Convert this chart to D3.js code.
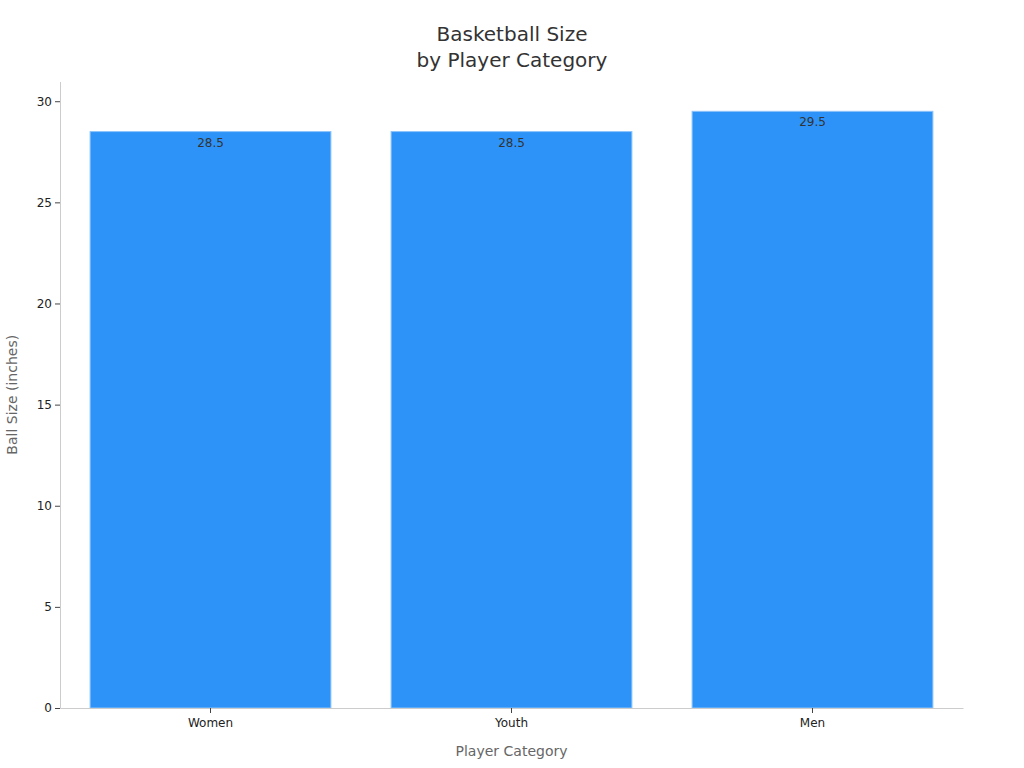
<!DOCTYPE html>
<html>
<head>
<meta charset="utf-8">
<script src="https://cdn.jsdelivr.net/npm/d3@7"></script>
<style>
  body { margin: 0; background: #fff; }
  svg { font-family: "DejaVu Sans", sans-serif; }
</style>
</head>
<body>
<div id="chart"></div>
<script>
'use strict';
const categories = ['Women', 'Youth', 'Men'];
const ballSizes = [28.5, 28.5, 29.5];
const yTicks = [0, 5, 10, 15, 20, 25, 30];

const width = 1024, height = 768;
const margin = {top: 81.5, right: 61, bottom: 60, left: 60};

const svg = d3.select('#chart').append('svg')
    .attr('width', width)
    .attr('height', height);

const data = categories.map((c, i) => ({name: c, value: ballSizes[i]}));

// scales
const x = d3.scaleBand()
    .domain(categories)
    .range([margin.left, width - margin.right])
    .paddingInner(0.2)
    .paddingOuter(0.1);
const y = d3.scaleLinear()
    .domain([0, d3.max(ballSizes) * 1.05])
    .range([height - margin.bottom, margin.top]);

// bars
svg.selectAll('.bar')
    .data(data)
    .enter().append('rect')
    .attr('class', 'bar')
    .attr('x', d => x(d.name))
    .attr('y', d => y(d.value))
    .attr('width', x.bandwidth())
    .attr('height', d => y(0) - y(d.value))
    .style('fill', '#2e93f8')
    .style('stroke', '#8cc4fb')
    .style('stroke-width', 1);

// value labels just inside the top of each bar
svg.selectAll('.label')
    .data(data)
    .enter().append('text')
    .attr('x', d => x(d.name) + x.bandwidth() / 2)
    .attr('y', d => y(d.value) + 15)
    .attr('text-anchor', 'middle')
    .style('font-size', '12px')
    .style('fill', '#333')
    .text(d => d.value);

// x axis
const xAxis = svg.append('g')
    .attr('transform', 'translate(0,' + (height - margin.bottom) + ')')
    .call(d3.axisBottom(x).tickSize(5).tickSizeOuter(0));
xAxis.select('.domain').attr('stroke', '#ccc');
xAxis.selectAll('.tick line').attr('stroke', '#444');
xAxis.selectAll('.tick text')
    .attr('dy', '0.9em')
    .style('font-size', '12px')
    .style('fill', '#222')
    .style('font-family', '"DejaVu Sans", sans-serif');

// y axis
const yAxis = svg.append('g')
    .attr('transform', 'translate(' + margin.left + ',0)')
    .call(d3.axisLeft(y).tickValues(yTicks).tickSize(5).tickSizeOuter(0));
yAxis.select('.domain').attr('stroke', '#ccc');
yAxis.selectAll('.tick line').attr('stroke', '#444');
yAxis.selectAll('.tick text')
    .style('font-size', '12px')
    .style('fill', '#222')
    .style('font-family', '"DejaVu Sans", sans-serif');

// title
svg.append('text')
    .attr('x', width / 2)
    .attr('y', 41)
    .attr('text-anchor', 'middle')
    .style('font-size', '20px')
    .style('fill', '#333')
    .text('Basketball Size');
svg.append('text')
    .attr('x', width / 2)
    .attr('y', 67)
    .attr('text-anchor', 'middle')
    .style('font-size', '20px')
    .style('fill', '#333')
    .text('by Player Category');

// axis titles
svg.append('text')
    .attr('x', (margin.left + width - margin.right) / 2)
    .attr('y', 756)
    .attr('text-anchor', 'middle')
    .style('font-size', '14px')
    .style('fill', '#666')
    .text('Player Category');
svg.append('text')
    .attr('transform', 'translate(17,' + ((margin.top + height - margin.bottom) / 2) + ') rotate(-90)')
    .attr('text-anchor', 'middle')
    .style('font-size', '14px')
    .style('fill', '#666')
    .text('Ball Size (inches)');
</script>
</body>
</html>
